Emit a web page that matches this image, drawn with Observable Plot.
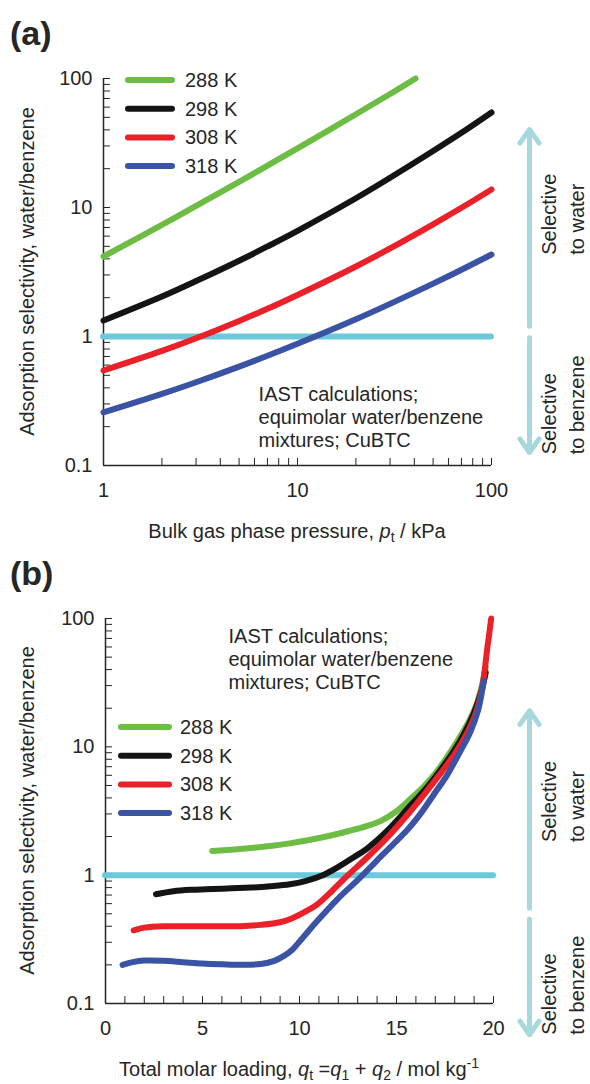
<!DOCTYPE html>
<html>
<head>
<meta charset="utf-8">
<script src="https://cdn.jsdelivr.net/npm/d3@7"></script>
<script src="https://cdn.jsdelivr.net/npm/@observablehq/plot@0.6"></script>
<style>
  body { margin: 0; background: #fff; }
  #fig { width: 590px; }
  #fig svg { display: block; }
</style>
</head>
<body>
<div id="fig"></div>
<script>
// ---------- data ----------
const temps = ["288 K", "298 K", "308 K", "318 K"];
const tempColors = ["#6dbd45", "#141414", "#ea2128", "#3a53a4"];

// (a) IAST selectivity vs bulk gas phase pressure, kPa
const pressure288 = [1, 2, 3, 5, 7, 10, 20, 30, 40.6];
const selA288 = [4.17, 7.34, 10.3, 15.8, 21.1, 28.7, 52.8, 75.8, 100];
const pressure = [1, 2, 3, 5, 7, 10, 20, 30, 50, 70, 100];
const selA298 = [1.33, 2.04, 2.69, 3.87, 4.99, 6.6, 11.8, 17.0, 27.4, 37.9, 54.5];
const selA308 = [0.545, 0.773, 0.969, 1.32, 1.64, 2.10, 3.49, 4.82, 7.41, 9.95, 13.8];
const selA318 = [0.258, 0.359, 0.442, 0.584, 0.709, 0.878, 1.36, 1.79, 2.57, 3.29, 4.32];

// (b) IAST selectivity vs total molar loading, mol/kg
const load288 = [5.5, 6.5, 7.5, 8.5, 9.5, 10.5, 11.5, 12.5, 13.5, 14.2, 15.0, 15.7, 16.4, 17.0, 17.6, 18.2, 18.7, 19.1, 19.4, 19.6];
const selB288 = [1.54, 1.58, 1.63, 1.69, 1.77, 1.88, 2.02, 2.2, 2.42, 2.65, 3.15, 3.9, 4.9, 6.2, 8.3, 11.5, 15.5, 21, 30, 42];
const load298 = [2.6, 3.5, 4.5, 5.5, 6.5, 7.5, 8.5, 9.5, 10.3, 11.2, 12.0, 12.8, 13.5, 14.5, 15.6, 16.5, 17.2, 17.9, 18.5, 19.0, 19.4, 19.6];
const selB298 = [0.71, 0.75, 0.77, 0.78, 0.79, 0.80, 0.82, 0.85, 0.9, 1.0, 1.16, 1.38, 1.62, 2.2, 3.33, 4.7, 6.4, 9.0, 12.8, 18.5, 28, 38];
const load308 = [1.45, 2, 3, 4, 5, 6, 7, 8, 9, 9.6, 10.3, 10.9, 11.7, 12.5, 13.5, 14.5, 15.6, 16.5, 17.3, 18.0, 18.6, 19.1, 19.4, 19.55, 19.7, 19.8, 19.88];
const selB308 = [0.372, 0.39, 0.40, 0.40, 0.40, 0.40, 0.40, 0.41, 0.43, 0.46, 0.52, 0.59, 0.76, 1.0, 1.38, 1.95, 3.0, 4.4, 6.3, 8.8, 12.5, 18.5, 28, 40, 62, 80, 100];
const load318 = [0.88, 1.4, 2, 3, 4, 5, 6, 7, 8, 8.7, 9.2, 9.6, 10.2, 10.9, 12.0, 13.1, 14.3, 15.6, 16.3, 16.9, 17.6, 18.3, 18.8, 19.2, 19.5];
const selB318 = [0.2, 0.21, 0.216, 0.215, 0.21, 0.205, 0.202, 0.2, 0.203, 0.215, 0.235, 0.26, 0.33, 0.437, 0.66, 0.95, 1.45, 2.29, 3.1, 4.2, 6.0, 9.3, 13, 19.1, 32.8];

// axis tick labels
const selTicks = [0.1, 1, 10, 100];
const selTickLabels = ["0.1", "1", "10", "100"];
const pressureTicks = [1, 10, 100];
const pressureTickLabels = ["1", "10", "100"];
const loadTicks = [0, 5, 10, 15, 20];
const loadTickLabels = ["0", "5", "10", "15", "20"];

// annotations
const noteText = "IAST calculations;\nequimolar water/benzene\nmixtures; CuBTC";
const parity = [1];

// ---------- styling ----------
const FONT = '"Liberation Sans", Arial, Helvetica, sans-serif';
const INK = "#262626";
const CYAN = "#6cc8da";
const PALE = "#a6d8de";
const W = 590;

function decadeTicks(lo, hi) {
  const out = [];
  for (let e = Math.round(Math.log10(lo)); e < Math.round(Math.log10(hi)); e++)
    for (let m = 1; m < 10; m++) out.push(+(m * 10 ** e).toPrecision(2));
  out.push(hi);
  return out;
}
const labelFor = (values, labels) => d => {
  const i = values.findIndex(v => Math.abs(v - d) < 1e-9);
  return i < 0 ? "" : labels[i];
};

// axis title with italic symbols, subscripts and superscripts
function addRichText(sel, parts) {
  let shift = 0;
  for (const [s, kind] of parts) {
    const ts = sel.append("tspan").text(s);
    const target = kind === "sub" ? 4 : kind === "sup" ? -8 : 0;
    if (target !== shift) { ts.attr("dy", target - shift); shift = target; }
    if (kind === "sub" || kind === "sup") ts.attr("font-size", 14);
    if (kind === "i") ts.attr("font-style", "italic");
  }
}

function buildPanel(cfg) {
  const [mt, mr, mb, ml] = cfg.margin;
  const H = cfg.height;
  const xd = cfg.x.domain;
  const rows = cfg.series.flatMap((s, k) => s.x.map((x, i) => ({x, y: s.y[i], t: temps[k]})));

  const plot = Plot.plot({
    width: W, height: H,
    marginTop: mt, marginRight: mr, marginBottom: mb, marginLeft: ml,
    style: {fontFamily: FONT, fontSize: "20px", color: INK, background: "#fff", overflow: "visible"},
    x: {...cfg.x, axis: null},
    y: {type: "log", domain: [0.1, 100], axis: null},
    color: {domain: temps, range: tempColors},
    marks: [
      Plot.ruleX([xd[0]], {stroke: INK, strokeWidth: 1.5}),
      Plot.ruleY([0.1], {stroke: INK, strokeWidth: 1.5}),
      Plot.axisY(decadeTicks(0.1, 100), {
        anchor: "left", tickSize: -7, tickPadding: 18, label: null,
        tickFormat: labelFor(selTicks, selTickLabels), stroke: INK, fill: INK
      }),
      Plot.axisX(cfg.xTickValues, {
        anchor: "bottom", tickSize: -7, tickPadding: 24, label: null,
        tickFormat: labelFor(cfg.xMajor, cfg.xLabels), stroke: INK, fill: INK
      }),
      Plot.ruleY(parity, {y: d => d, x1: xd[0], x2: xd[1], stroke: CYAN, strokeWidth: 6, strokeLinecap: "round"}),
      Plot.line(rows, {
        x: "x", y: "y", z: "t", stroke: "t", strokeWidth: 6,
        strokeLinecap: "round", strokeLinejoin: "round", curve: "catmull-rom"
      }),
      Plot.text([noteText], {
        x: cfg.note.x, y: cfg.note.y, text: d => d, textAnchor: "start",
        lineAnchor: "middle", lineHeight: 1.15, fill: INK, fontSize: 20
      }),
      Plot.arrow(cfg.arrows, {
        x1: xd[1], x2: xd[1], y1: "from", y2: "to", dx: cfg.arrowDx,
        stroke: PALE, strokeWidth: 5, headLength: 5, headAngle: 70
      }),
      Plot.text(cfg.side, {
        frameAnchor: "right", y: "y", text: "text", rotate: -90, dx: cfg.sideDx,
        textAnchor: "start", lineAnchor: "middle", lineHeight: 1.4, fill: INK, fontSize: 20
      })
    ]
  });

  const svg = d3.select(plot);
  const g = svg.append("g")
    .attr("font-family", FONT).attr("fill", INK).attr("text-anchor", "start");

  // panel tag
  g.append("text").attr("x", 10).attr("y", cfg.tagBaseline)
    .attr("font-size", 34).attr("font-weight", "bold").text(cfg.tag);

  // legend
  const L = cfg.legend;
  temps.forEach((t, i) => {
    const yy = mt + L.top + i * L.step;
    g.append("line")
      .attr("x1", ml + L.x0).attr("x2", ml + L.x1).attr("y1", yy).attr("y2", yy)
      .attr("stroke", tempColors[i]).attr("stroke-width", 6).attr("stroke-linecap", "round");
    g.append("text").attr("x", ml + L.tx).attr("y", yy).attr("dy", "0.35em")
      .attr("font-size", 20).text(t);
  });

  // axis titles
  const xt = g.append("text")
    .attr("x", (ml + W - mr) / 2).attr("y", H - mb + cfg.xTitleOffset)
    .attr("text-anchor", "middle").attr("font-size", 20);
  addRichText(xt, cfg.xTitle);

  g.append("text")
    .attr("transform", `translate(34,${(mt + H - mb) / 2}) rotate(-90)`)
    .attr("text-anchor", "middle").attr("font-size", 20)
    .text("Adsorption selectivity, water/benzene");

  return plot;
}

const panelA = buildPanel({
  tag: "(a)", tagBaseline: 45,
  height: 545, margin: [78, 99, 80, 103],
  x: {type: "log", domain: [1, 100]},
  xTickValues: decadeTicks(1, 100), xMajor: pressureTicks, xLabels: pressureTickLabels,
  series: [
    {x: pressure288, y: selA288},
    {x: pressure, y: selA298},
    {x: pressure, y: selA308},
    {x: pressure, y: selA318}
  ],
  note: {x: 6.3, y: 0.24},
  arrows: [{from: 1.2, to: 40.3}, {from: 0.98, to: 0.126}],
  arrowDx: 38,
  side: [{text: "Selective\nto water", y: 4.3}, {text: "Selective\nto benzene", y: 0.122}],
  sideDx: 70,
  legend: {top: 2, step: 28.7, x0: 25, x1: 69, tx: 82},
  xTitleOffset: 73,
  xTitle: [["Bulk gas phase pressure, "], ["p", "i"], ["t", "sub"], [" / kPa"]]
});

const panelB = buildPanel({
  tag: "(b)", tagBaseline: 40,
  height: 539, margin: [73, 97, 81, 105],
  x: {type: "linear", domain: [0, 20]},
  xTickValues: d3.range(0, 21), xMajor: loadTicks, xLabels: loadTickLabels,
  series: [
    {x: load288, y: selB288},
    {x: load298, y: selB298},
    {x: load308, y: selB308},
    {x: load318, y: selB318}
  ],
  note: {x: 6.34, y: 48.7},
  arrows: [{from: 0.552, to: 19.1}, {from: 0.453, to: 0.057}],
  arrowDx: 36,
  side: [{text: "Selective\nto water", y: 1.81}, {text: "Selective\nto benzene", y: 0.0572}],
  sideDx: 68,
  legend: {top: 109, step: 28.7, x0: 16, x1: 64, tx: 75},
  xTitleOffset: 73,
  xTitle: [["Total molar loading, "], ["q", "i"], ["t", "sub"], [" ="], ["q", "i"], ["1", "sub"],
           [" + "], ["q", "i"], ["2", "sub"], [" / mol kg"], ["-1", "sup"]]
});

document.getElementById("fig").append(panelA, panelB);
</script>
</body>
</html>
